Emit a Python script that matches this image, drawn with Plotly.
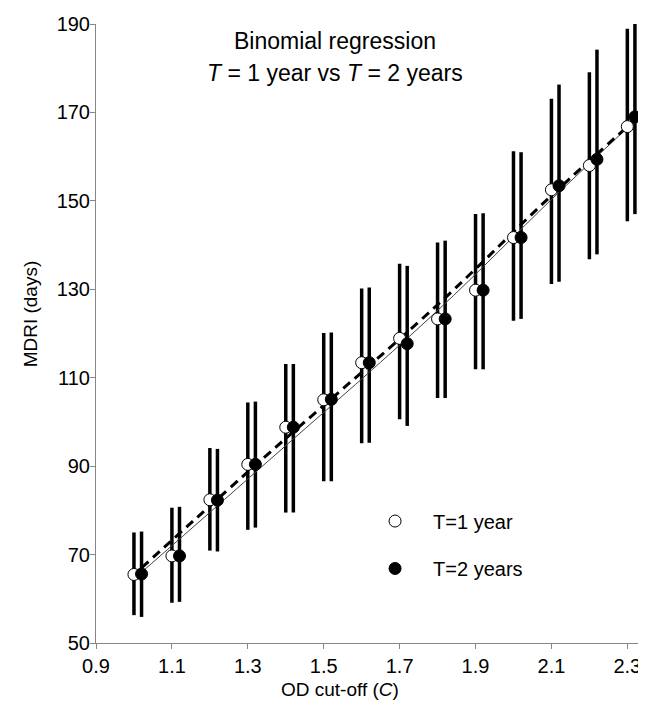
import plotly.graph_objects as go

# Data
cutoff_t1 = [1.0, 1.1, 1.2, 1.3, 1.4, 1.5, 1.6, 1.7, 1.8, 1.9, 2.0, 2.1, 2.2, 2.3]
mdri_t1 = [65.5, 69.7, 82.4, 90.4, 98.8, 105.0, 113.4, 118.9, 123.3, 129.8, 141.7, 152.5, 158.0, 166.8]
upper_t1 = [75.0, 80.6, 94.1, 104.4, 113.1, 120.1, 130.2, 135.8, 140.6, 147.0, 161.2, 173.1, 179.1, 188.9]
lower_t1 = [56.3, 59.1, 70.9, 75.6, 79.5, 86.6, 95.2, 100.6, 105.4, 111.9, 122.9, 131.2, 136.8, 145.4]

cutoff_t2 = [1.02, 1.12, 1.22, 1.32, 1.42, 1.52, 1.62, 1.72, 1.82, 1.92, 2.02, 2.12, 2.22, 2.32]
mdri_t2 = [65.6, 69.7, 82.3, 90.4, 98.8, 105.1, 113.4, 117.7, 123.3, 129.8, 141.7, 153.4, 159.4, 169.0]
upper_t2 = [75.2, 80.8, 93.9, 104.6, 113.1, 120.2, 130.4, 135.3, 141.0, 147.2, 161.0, 176.3, 184.2, 190.4]
lower_t2 = [55.9, 59.3, 70.7, 76.1, 79.5, 86.6, 95.3, 99.1, 105.4, 111.9, 123.3, 131.7, 137.9, 147.0]

# Fitted curves
fit1_x = [1.0, 1.3, 1.8, 2.1, 2.3]
fit1_y = [64.5, 87.1, 125.2, 150.3, 166.5]
fit2_x = [1.02, 1.3, 1.8, 2.1, 2.32]
fit2_y = [67.0, 88.7, 126.5, 151.2, 168.3]

x_ticks = [0.9, 1.1, 1.3, 1.5, 1.7, 1.9, 2.1, 2.3]
y_ticks = [50, 70, 90, 110, 130, 150, 170, 190]

FONT = "Arial, Liberation Sans, sans-serif"
AXIS_GRAY = "#878787"

fig = go.Figure()

# Error bars (drawn first, under everything)
for xs, ys, up, lo in [(cutoff_t1, mdri_t1, upper_t1, lower_t1),
                       (cutoff_t2, mdri_t2, upper_t2, lower_t2)]:
    fig.add_trace(go.Scatter(
        x=xs, y=ys, mode="markers",
        marker=dict(size=1, opacity=0),
        error_y=dict(type="data", symmetric=False,
                     array=[u - y for u, y in zip(up, ys)],
                     arrayminus=[y - l for l, y in zip(lo, ys)],
                     color="black", thickness=3.5, width=0),
        showlegend=False, hoverinfo="skip", cliponaxis=False,
    ))

# Fit lines
fig.add_trace(go.Scatter(x=fit1_x, y=fit1_y, mode="lines",
                         line=dict(color="#444444", width=1, shape="spline"),
                         showlegend=False, hoverinfo="skip"))
fig.add_trace(go.Scatter(x=fit2_x, y=fit2_y, mode="lines",
                         line=dict(color="black", width=3, dash="9px,6px", shape="spline"),
                         showlegend=False, hoverinfo="skip"))

# Points
fig.add_trace(go.Scatter(x=cutoff_t1, y=mdri_t1, mode="markers", name="T=1 year",
                         marker=dict(size=12, color="white", line=dict(color="black", width=1)),
                         legend="legend", cliponaxis=False))
fig.add_trace(go.Scatter(x=cutoff_t2, y=mdri_t2, mode="markers", name="T=2 years",
                         marker=dict(size=12, color="black", line=dict(color="black", width=1)),
                         legend="legend2", cliponaxis=False))

axis_common = dict(showgrid=False, zeroline=False, showline=True, linecolor=AXIS_GRAY,
                   linewidth=1, ticks="outside", ticklen=5, tickcolor=AXIS_GRAY,
                   tickfont=dict(family=FONT, size=20, color="black"))

# The page body adds an 8px margin, so the figure is kept smaller than the window
fig.update_layout(
    width=638, height=692,
    margin=dict(l=88, r=5, t=12, b=57),
    paper_bgcolor="white", plot_bgcolor="white",
    font=dict(family=FONT, color="black"),
    xaxis=dict(range=[0.9, 2.336], tickvals=x_ticks, ticktext=[f"{v:.1f}" for v in x_ticks],
               **axis_common),
    yaxis=dict(range=[50, 190], tickvals=y_ticks, ticklabelstandoff=-4, **axis_common),
    legend=dict(x=0.479, y=0.197, xanchor="left", yanchor="middle",
                font=dict(family=FONT, size=20), bgcolor="rgba(0,0,0,0)", itemwidth=66),
    legend2=dict(x=0.479, y=0.1204, xanchor="left", yanchor="middle",
                 font=dict(family=FONT, size=20), bgcolor="rgba(0,0,0,0)", itemwidth=66),
    annotations=[
        dict(text="Binomial regression", xref="paper", yref="paper",
             x=0.4385, y=0.972, xanchor="center", yanchor="middle", showarrow=False,
             font=dict(family=FONT, size=23)),
        dict(text="<i>T</i> = 1 year vs <i>T</i> = 2 years", xref="paper", yref="paper",
             x=0.4385, y=0.921, xanchor="center", yanchor="middle", showarrow=False,
             font=dict(family=FONT, size=23)),
        dict(text="MDRI (days)", xref="paper", yref="paper", textangle=-90,
             x=-0.121, y=0.531, xanchor="center", yanchor="middle", showarrow=False,
             font=dict(family=FONT, size=19)),
        dict(text="OD cut-off (<i>C</i>)", xref="paper", yref="paper",
             x=0.4477, y=-0.0754, xanchor="center", yanchor="middle", showarrow=False,
             font=dict(family=FONT, size=19)),
    ],
)

fig.write_html("out.html")
